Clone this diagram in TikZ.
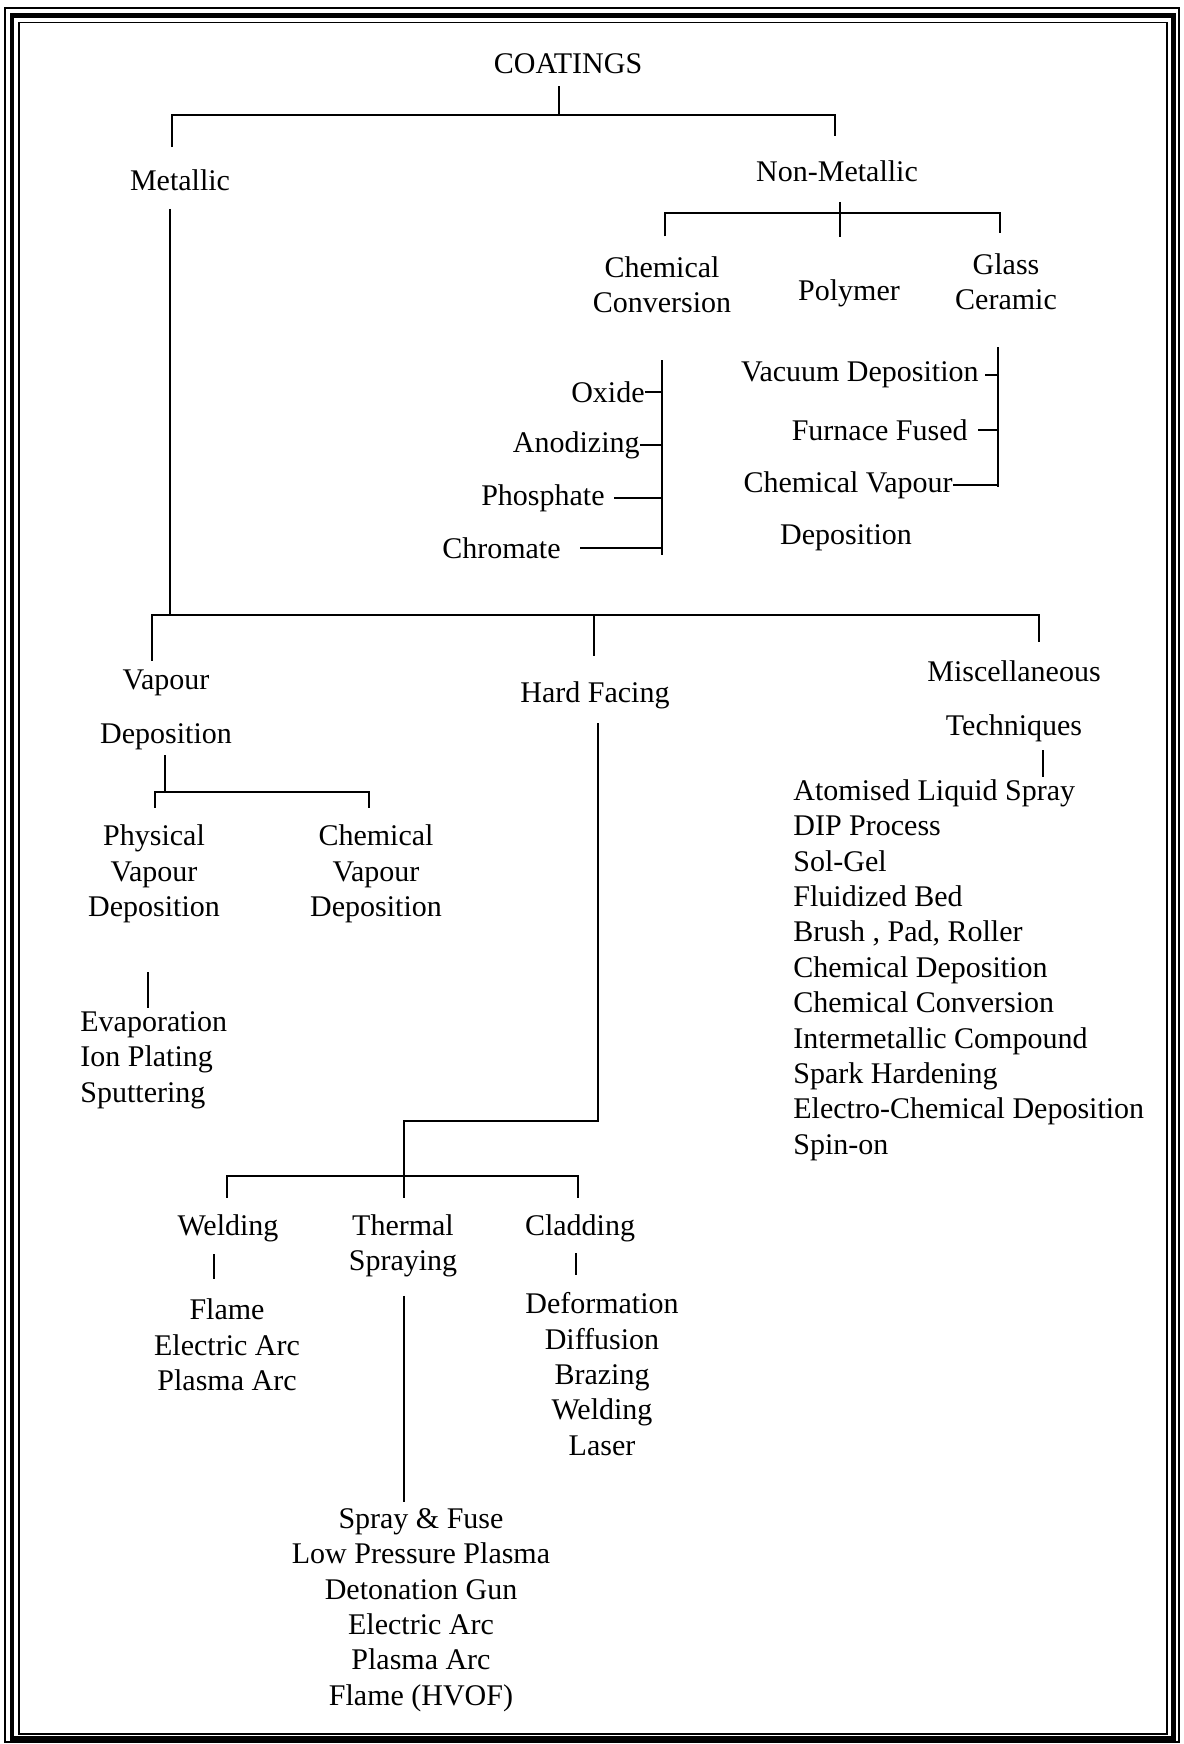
\documentclass[tikz,border=0pt]{standalone}
\usepackage{fontspec}
\setmainfont{Liberation Serif}

\begin{document}
\begin{tikzpicture}[x=0.5pt,y=-0.5pt,
    every node/.style={font=\fontsize{15}{17.7}\selectfont,inner sep=0pt},
    lbl/.style={align=center},
    lst/.style={align=left,anchor=west},
    item/.style={anchor=east},
    link/.style={line width=1pt}]
    \useasboundingbox (0,0) rectangle (1183,1744);

    \draw[line width=0.9pt] (5,8) rectangle (1179,1742);
    \draw[line width=2.2pt] (12,15.5) rectangle (1173.5,1738.5);
    \draw[line width=0.9pt] (19,22.5) rectangle (1167,1734);

    \node (coat)   at (568,64)  {COATINGS};
    \node (met)    at (180,180) {Metallic};
    \node (nonmet) at (837,171) {Non-Metallic};

    \coordinate (topL) at (172,115);
    \coordinate (topM) at (559,115);
    \coordinate (topR) at (835,115);
    \draw[link,shorten <=11pt,shorten >=12pt] (met.north -| topL) |- (topR) -- (nonmet.north -| topR);
    \draw[link,shorten <=6pt] (coat.south -| topM) -- (topM);

    \node[lbl] (chemconv) at (662,285)  {Chemical\\Conversion};
    \node      (polymer)  at (849,293)  {Polymer};
    \node[lbl] (glass)    at (1006,282) {Glass\\Ceramic};

    \coordinate (nmL) at (665,213);
    \coordinate (nmM) at (840,213);
    \coordinate (nmR) at (1000,213);
    \draw[link,shorten <=10pt,shorten >=10pt] (chemconv.north -| nmL) |- (nmR) -- (glass.north -| nmR);
    \draw[link,shorten <=10pt,shorten >=21pt] (nonmet.south -| nmM) -- (polymer.north -| nmM);

    \node[item] (oxide) at (645,392) {Oxide};
    \node[item] (anod)  at (640,445) {Anodizing};
    \node[item] (phos)  at (605,498) {Phosphate};
    \node[item] (chrom) at (561,548) {Chromate};

    \coordinate (ccT) at (662,360);
    \coordinate (ccB) at (662,555);
    \draw[link] (ccT) -- (ccB);
    \draw[link] (oxide) -- (oxide -| ccT);
    \draw[link] (anod) -- (anod -| ccT);
    \draw[link,shorten <=4.5pt] (phos) -- (phos -| ccT);
    \draw[link,shorten <=9.5pt] (chrom) -- (chrom -| ccT);

    \node[item] (vacdep) at (979,375) {Vacuum Deposition};
    \node[item] (furn)   at (968,430) {Furnace Fused};
    \node[item] (cvap)   at (953,485) {Chemical Vapour};
    \node       (cvdep)  at (846,538) {Deposition};

    \coordinate (gcT) at (998,347);
    \coordinate (gcB) at (998,487);
    \draw[link] (gcT) -- (gcB);
    \draw[link,shorten <=3pt] (vacdep) -- (vacdep -| gcT);
    \draw[link,shorten <=5pt] (furn) -- (furn -| gcT);
    \draw[link] (cvap) -- (cvap -| gcT);

    \node[lbl] (vapdep) at (166,710)  {Vapour\\[9.3pt]Deposition};
    \node      (hardf)  at (595,695)  {Hard Facing};
    \node[lbl] (misc)   at (1014,701) {Miscellaneous\\[9.3pt]Techniques};

    \coordinate (mj)  at (170,615);
    \coordinate (vdL) at (152,615);
    \coordinate (hfT) at (594,615);
    \coordinate (msR) at (1039,615);
    \draw[link,shorten <=9pt] (met.south -| mj) -- (mj);
    \draw[link,shorten <=4.5pt,shorten >=9pt] (vapdep.north -| vdL) |- (msR) -- (misc.north -| msR);
    \draw[link,shorten >=12.5pt] (hfT) -- (hardf.north -| hfT);

    \node[lbl] (phys)   at (154,874) {Physical\\Vapour\\Deposition};
    \node[lbl] (chemvd) at (376,874) {Chemical\\Vapour\\Deposition};
    \node[lst] (pvdlist) at (80,1060) {Evaporation\\Ion Plating\\Sputtering};

    \coordinate (vdM) at (165,792);
    \coordinate (pvL) at (155,792);
    \coordinate (cvR) at (369,792);
    \coordinate (pvx) at (148,990);
    \draw[link,shorten <=2.5pt] (vapdep.south -| vdM) -- (vdM);
    \draw[link,shorten <=8.5pt,shorten >=8.5pt] (phys.north -| pvL) |- (cvR) -- (chemvd.north -| cvR);
    \draw[link,shorten <=24.5pt,shorten >=1.5pt] (phys.south -| pvx) -- (pvdlist.north -| pvx);

    \node[lbl] (weld)    at (228,1228) {Welding};
    \node[lbl] (thermal) at (403,1246) {Thermal\\Spraying};
    \node[lbl] (clad)    at (580,1228) {Cladding};

    \coordinate (hfB) at (598,1121);
    \coordinate (tsM) at (404,1121);
    \coordinate (wL)  at (227,1176);
    \coordinate (cR)  at (578,1176);
    \draw[link,shorten <=7pt,shorten >=8pt] (hardf.south -| hfB) |- (tsM) -- (thermal.north -| tsM);
    \draw[link,shorten <=8pt,shorten >=8pt] (weld.north -| wL) |- (cR) -- (clad.north -| cR);

    \node[lbl] (weldlist) at (227,1345) {Flame\\Electric Arc\\Plasma Arc};
    \node[lbl] (tslist)   at (421,1610) {Spray \& Fuse\\Low Pressure Plasma\\Detonation Gun\\Electric Arc\\Plasma Arc\\Flame (HVOF)};
    \node[lbl] (cladlist) at (602,1374) {Deformation\\Diffusion\\Brazing\\Welding\\Laser};

    \coordinate (wsx) at (214,1266);
    \coordinate (csx) at (576,1266);
    \draw[link,shorten <=6pt,shorten >=10pt] (weld.south -| wsx) -- (weldlist.north -| wsx);
    \draw[link,shorten <=9pt,shorten >=3pt] (thermal.south -| tsM) -- (tslist.north -| tsM);
    \draw[link,shorten <=5.5pt,shorten >=8.5pt] (clad.south -| csx) -- (cladlist.north -| csx);

    \node[lst] (misclist) at (793,970) {Atomised Liquid Spray\\DIP Process\\Sol-Gel\\Fluidized Bed\\Brush , Pad, Roller\\Chemical Deposition\\Chemical Conversion\\Intermetallic Compound\\Spark Hardening\\Electro-Chemical Deposition\\Spin-on};

    \coordinate (msx) at (1043,760);
    \draw[link,shorten <=4pt,shorten >=1pt] (misc.south -| msx) -- (misclist.north -| msx);
\end{tikzpicture}
\end{document}
